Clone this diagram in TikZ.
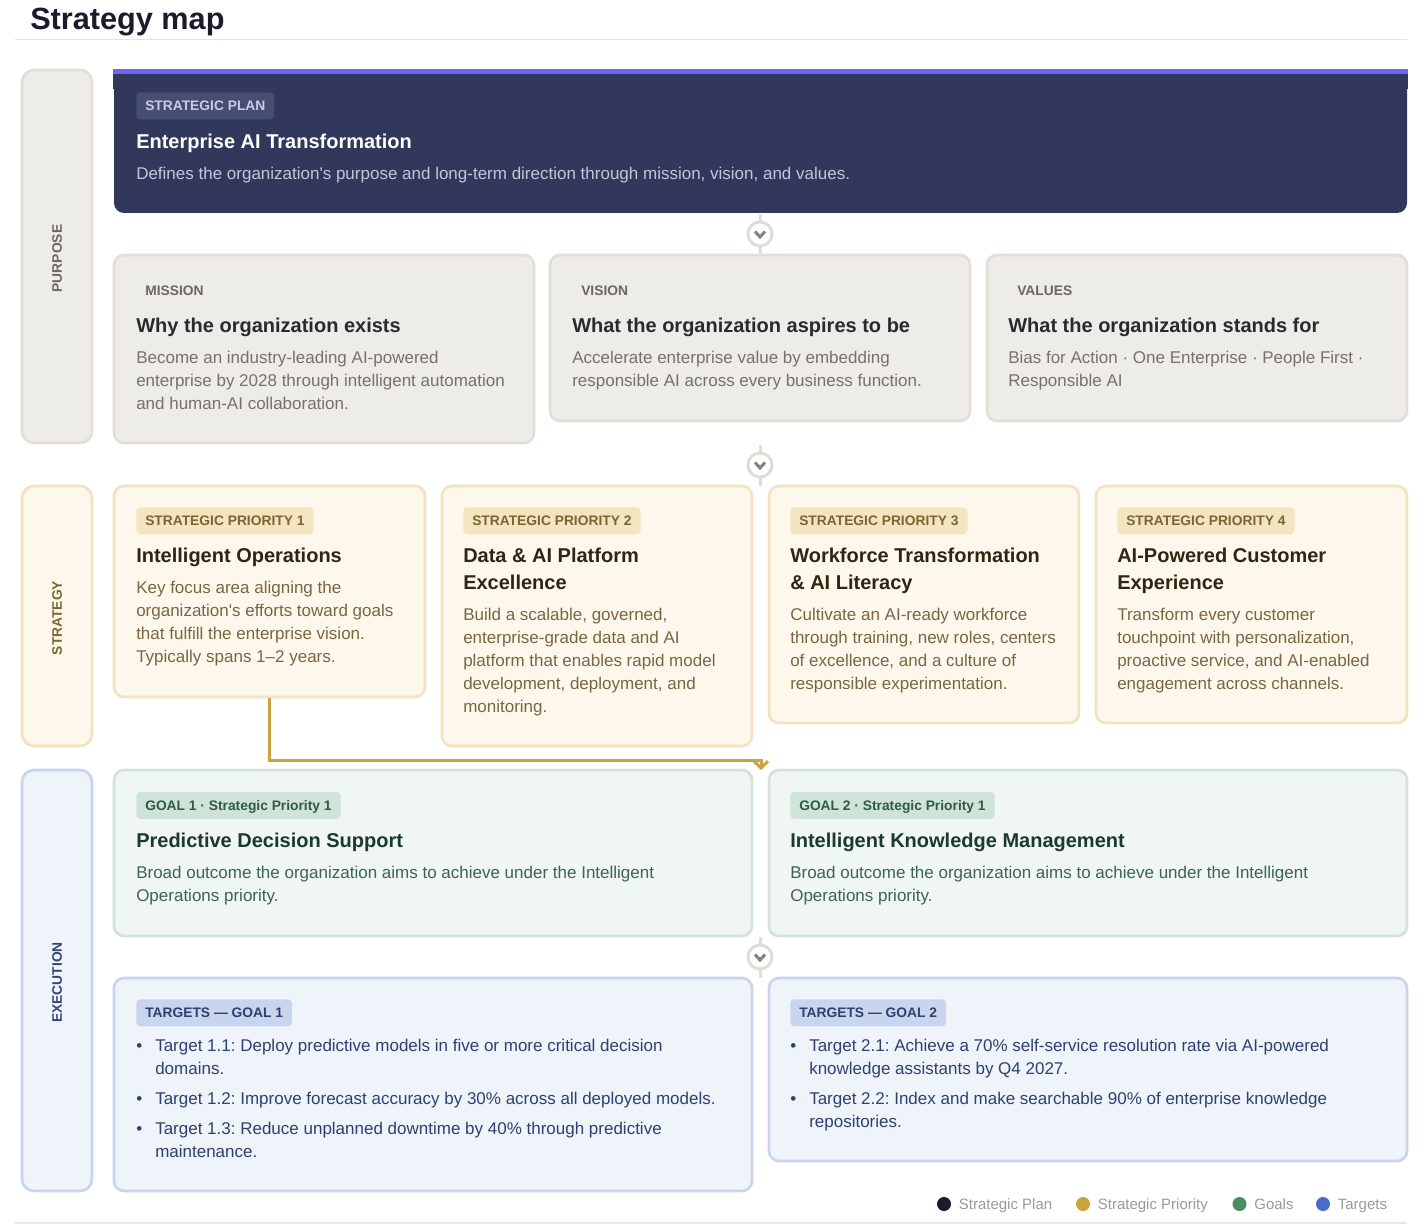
\documentclass[tikz,border=0pt]{standalone}
\usepackage{fontspec}
\setmainfont{Liberation Sans}
\usetikzlibrary{positioning,fit,arrows.meta}

\definecolor{ink}{HTML}{1A1C2E}
\definecolor{planbg}{HTML}{31385C}
\definecolor{planbar}{HTML}{6C66F2}
\definecolor{planbadge}{HTML}{474E73}
\definecolor{planlbl}{HTML}{C9CCE0}
\definecolor{plantxt}{HTML}{C3C6DA}
\definecolor{purfill}{HTML}{EEECE8}
\definecolor{purline}{HTML}{E3DED7}
\definecolor{purlbl}{HTML}{6B6762}
\definecolor{purttl}{HTML}{2B2A28}
\definecolor{purtxt}{HTML}{75716C}
\definecolor{strfill}{HTML}{FEF8EC}
\definecolor{strline}{HTML}{F2E3BE}
\definecolor{strbadge}{HTML}{F3E5BF}
\definecolor{strlbl}{HTML}{7B6533}
\definecolor{strttl}{HTML}{2D2612}
\definecolor{strtxt}{HTML}{7A6542}
\definecolor{golfill}{HTML}{F0F6F3}
\definecolor{golline}{HTML}{D0E4DB}
\definecolor{golbadge}{HTML}{CFE3D9}
\definecolor{gollbl}{HTML}{305B46}
\definecolor{golttl}{HTML}{1B3A2B}
\definecolor{goltxt}{HTML}{3D6352}
\definecolor{tgtfill}{HTML}{EFF3FA}
\definecolor{tgtline}{HTML}{C9D5EC}
\definecolor{tgttxt}{HTML}{2F4070}
\definecolor{execlbl}{HTML}{34457A}
\definecolor{hubline}{HTML}{E0DCD6}
\definecolor{hubmark}{HTML}{85817B}
\definecolor{gold}{HTML}{C9A43E}
\definecolor{leggreen}{HTML}{4A8C66}
\definecolor{legblue}{HTML}{4A6CC8}
\definecolor{leggray}{HTML}{9A9A9A}
\definecolor{ruletop}{HTML}{E5E3E0}
\definecolor{rulebot}{HTML}{E8E8E3}

\tikzstyle{card}=[draw, line width=2pt, rounded corners=7.5pt, inner sep=0pt]
\tikzstyle{side}=[draw, line width=2pt, rounded corners=9pt, inner sep=0pt]
\tikzstyle{badge}=[anchor=north west, inner xsep=6.75pt, inner ysep=0pt, minimum height=20.25pt, text height=7.4pt, text depth=0pt, rounded corners=3pt, font=\fontsize{10.35}{12}\selectfont\bfseries]
\tikzstyle{ttl}=[anchor=north west, inner sep=0pt, align=left, font=\fontsize{15}{20.25}\selectfont\bfseries]
\tikzstyle{txt}=[anchor=north west, inner sep=0pt, align=left, font=\fontsize{12.75}{17.25}\selectfont\frenchspacing]
\tikzstyle{sidelbl}=[rotate=90, inner sep=0pt, xshift=-1.5pt, font=\fontsize{10.35}{12}\selectfont\bfseries]
\tikzstyle{hub}=[circle, draw=hubline, line width=2.25pt, fill=white, minimum size=18pt, inner sep=0pt]
\tikzstyle{hubwire}=[draw=hubline, line width=2.25pt]
\tikzstyle{chev}=[draw=hubmark, line width=2.25pt]
\tikzstyle{flow}=[draw=gold, line width=2.25pt, -{Straight Barb[length=5pt,width=10.5pt]}]
\tikzstyle{legdot}=[circle, minimum size=10.5pt, inner sep=0pt]
\tikzstyle{legend}=[anchor=west, inner sep=0pt, text height=8.05pt, text depth=0pt, text=leggray, font=\fontsize{11.25}{13}\selectfont]

\newcommand{\bul}{\makebox[14.25pt][l]{•}}
\newcommand{\hang}{\hspace*{14.25pt}}

\begin{document}
\frenchspacing
\begin{tikzpicture}[x=0.75pt,y=-0.75pt]
\path[use as bounding box, fill=white] (0,0) rectangle (1424,1226);

% heading
\node[anchor=base west, inner sep=0pt, text=ink, font=\fontsize{23}{28}\selectfont\bfseries] (title) at (30,29.5) {Strategy map};
\draw[ruletop, line width=1.2pt] (15,39.5) -- (1407,39.5);

% layer bars on the left
\node[side, fill=purfill, draw=purline, fit={(22,70) (92,443)}] (purpose) {};
\node[side, fill=strfill, draw=strline, fit={(22,486) (92,746)}] (strategy) {};
\node[side, fill=tgtfill, draw=tgtline, fit={(22,770) (92,1191)}] (execution) {};
\node[sidelbl, text=purlbl] (purposelbl) at (purpose.center) {PURPOSE};
\node[sidelbl, text=strlbl] (strategylbl) at (strategy.center) {STRATEGY};
\node[sidelbl, text=execlbl] (executionlbl) at (execution.center) {EXECUTION};

% strategic plan
\node[card, draw=none, fill=planbg, fit={(114,70) (1407,213)}] (plan) {};
\fill[planbg] (plan.north west) rectangle ([yshift=-15pt]plan.north east);
\fill[planbar] (plan.north west) rectangle ([yshift=-3.75pt]plan.north east);
\node[badge, fill=planbadge, text=planlbl] (planbadge) at (136,92) {STRATEGIC PLAN};
\node[ttl, text=white] (plantitle) at (136,129.1) {\strut Enterprise AI Transformation};
\node[txt, text=plantxt] (plantext) at (136,162.9) {\strut Defines the organization\textquotesingle s purpose and long-term direction through mission, vision, and values.};

% mission, vision, values
\node[card, fill=purfill, draw=purline, fit={(114,255) (534,443)}] (mission) {};
\node[card, fill=purfill, draw=purline, fit={(550,255) (970,421)}] (vision) {};
\node[card, fill=purfill, draw=purline, fit={(987,255) (1407,421)}] (values) {};
\node[badge, text=purlbl] (missionlbl) at (136,276.5) {MISSION};
\node[badge, text=purlbl] (visionlbl) at (572,276.5) {VISION};
\node[badge, text=purlbl] (valueslbl) at (1008,276.5) {VALUES};
\node[ttl, text=purttl] (missionttl) at (136,313.1) {\strut Why the organization exists};
\node[ttl, text=purttl] (visionttl) at (572,313.1) {\strut What the organization aspires to be};
\node[ttl, text=purttl] (valuesttl) at (1008,313.1) {\strut What the organization stands for};
\node[txt, text=purtxt] (missiontxt) at (136,346.9) {\strut Become an industry-leading AI-powered\\enterprise by 2028 through intelligent automation\\and human-AI collaboration.};
\node[txt, text=purtxt] (visiontxt) at (572,346.9) {\strut Accelerate enterprise value by embedding\\responsible AI across every business function.};
\node[txt, text=purtxt] (valuestxt) at (1008,346.9) {\strut Bias for Action · One Enterprise · People First ·\\Responsible AI};

% strategic priorities
\node[card, fill=strfill, draw=strline, fit={(114,486) (425,697)}] (prio1) {};
\node[card, fill=strfill, draw=strline, fit={(442,486) (752,746)}] (prio2) {};
\node[card, fill=strfill, draw=strline, fit={(769,486) (1079,723)}] (prio3) {};
\node[card, fill=strfill, draw=strline, fit={(1096,486) (1407,723)}] (prio4) {};
\node[badge, fill=strbadge, text=strlbl] (prio1lbl) at (136,507) {STRATEGIC PRIORITY 1};
\node[badge, fill=strbadge, text=strlbl] (prio2lbl) at (463,507) {STRATEGIC PRIORITY 2};
\node[badge, fill=strbadge, text=strlbl] (prio3lbl) at (790,507) {STRATEGIC PRIORITY 3};
\node[badge, fill=strbadge, text=strlbl] (prio4lbl) at (1117,507) {STRATEGIC PRIORITY 4};
\node[ttl, text=strttl] (prio1ttl) at (136,543.3) {\strut Intelligent Operations};
\node[ttl, text=strttl] (prio2ttl) at (463,543.3) {\strut Data \& AI Platform\\Excellence};
\node[ttl, text=strttl] (prio3ttl) at (790,543.3) {\strut Workforce Transformation\\\& AI Literacy};
\node[ttl, text=strttl] (prio4ttl) at (1117,543.3) {\strut AI-Powered Customer\\Experience};
\node[txt, text=strtxt] (prio1txt) at (136,577.4) {\strut Key focus area aligning the\\organization\textquotesingle s efforts toward goals\\that fulfill the enterprise vision.\\Typically spans 1–2 years.};
\node[txt, text=strtxt] (prio2txt) at (463,604.4) {\strut Build a scalable, governed,\\enterprise-grade data and AI\\platform that enables rapid model\\development, deployment, and\\monitoring.};
\node[txt, text=strtxt] (prio3txt) at (790,604.4) {\strut Cultivate an AI-ready workforce\\through training, new roles, centers\\of excellence, and a culture of\\responsible experimentation.};
\node[txt, text=strtxt] (prio4txt) at (1117,604.4) {\strut Transform every customer\\touchpoint with personalization,\\proactive service, and AI-enabled\\engagement across channels.};

% goals
\node[card, fill=golfill, draw=golline, fit={(114,770) (752,936)}] (goal1) {};
\node[card, fill=golfill, draw=golline, fit={(769,770) (1407,936)}] (goal2) {};
\node[badge, fill=golbadge, text=gollbl] (goal1lbl) at (136,791.5) {GOAL 1 · Strategic Priority 1};
\node[badge, fill=golbadge, text=gollbl] (goal2lbl) at (790,791.5) {GOAL 2 · Strategic Priority 1};
\node[ttl, text=golttl] (goal1ttl) at (136,828.1) {\strut Predictive Decision Support};
\node[ttl, text=golttl] (goal2ttl) at (790,828.1) {\strut Intelligent Knowledge Management};
\node[txt, text=goltxt] (goal1txt) at (136,861.9) {\strut Broad outcome the organization aims to achieve under the Intelligent\\Operations priority.};
\node[txt, text=goltxt] (goal2txt) at (790,861.9) {\strut Broad outcome the organization aims to achieve under the Intelligent\\Operations priority.};

% targets
\node[card, fill=tgtfill, draw=tgtline, fit={(114,978) (752,1191)}] (targets1) {};
\node[card, fill=tgtfill, draw=tgtline, fit={(769,978) (1407,1161)}] (targets2) {};
\node[badge, fill=tgtline, text=tgttxt] (targets1lbl) at (136,999) {TARGETS — GOAL 1};
\node[badge, fill=tgtline, text=tgttxt] (targets2lbl) at (790,999) {TARGETS — GOAL 2};
\node[txt, text=tgttxt] (targets1txt) at (136,1034.9) {\strut\bul Target 1.1: Deploy predictive models in five or more critical decision\\\hang domains.\\[5.4pt]\bul Target 1.2: Improve forecast accuracy by 30\% across all deployed models.\\[5.4pt]\bul Target 1.3: Reduce unplanned downtime by 40\% through predictive\\\hang maintenance.};
\node[txt, text=tgttxt] (targets2txt) at (790,1034.9) {\strut\bul Target 2.1: Achieve a 70\% self-service resolution rate via AI-powered\\\hang knowledge assistants by Q4 2027.\\[5.4pt]\bul Target 2.2: Index and make searchable 90\% of enterprise knowledge\\\hang repositories.};

% hubs between layers
\coordinate (rowAend) at (760,445);
\coordinate (rowBtop) at (760,486);
\coordinate (rowCend) at (760,937);
\coordinate (rowDtop) at (760,978);
\draw[hubwire] (plan.south) -- (vision.north);
\draw[hubwire] (rowAend) -- (rowBtop);
\draw[hubwire] (rowCend) -- (rowDtop);
\node[hub] (hubA) at (760,234) {};
\node[hub] (hubB) at (760,465) {};
\node[hub] (hubC) at (760,957) {};
\foreach \h in {hubA,hubB,hubC}
  \draw[chev] ([shift={(-5,-2.5)}]\h.center) -- ++(5,5.5) -- ++(5,-5.5);

% priority 1 feeds the goals
\coordinate (bend) at (761,760);
\coordinate (arrowend) at (761,770);
\draw[flow] (prio1.south) |- (bend) -- (arrowend);

% legend
\node[legdot, fill=ink] (dotplan) at (944,1204) {};
\node[legend, right=5.5pt of dotplan] (legplan) {Strategic Plan};
\node[legdot, fill=gold] (dotprio) at (1083,1204) {};
\node[legend, right=5.5pt of dotprio] (legprio) {Strategic Priority};
\node[legdot, fill=leggreen] (dotgoal) at (1239.5,1204) {};
\node[legend, right=5.5pt of dotgoal] (leggoal) {Goals};
\node[legdot, fill=legblue] (dottgt) at (1323,1204) {};
\node[legend, right=5.5pt of dottgt] (legtgt) {Targets};
\draw[rulebot, line width=1.5pt] (15,1222.5) -- (1407,1222.5);
\end{tikzpicture}
\end{document}
